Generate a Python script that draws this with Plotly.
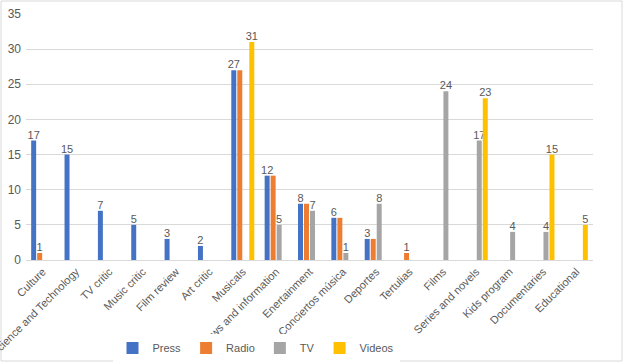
import plotly.graph_objects as go

categories = ["Culture", "Science and Technology", "TV critic", "Music critic", "Film review",
              "Art critic", "Musicals", "News and information", "Enertainment", "Conciertos música",
              "Deportes", "Tertulias", "Films", "Series and novels", "Kids program",
              "Documentaries", "Educational"]
press = [17, 15, 7, 5, 3, 2, 27, 12, 8, 6, 3, None, None, None, None, None, None]
radio = [1, None, None, None, None, None, 27, 12, 8, 6, 3, 1, None, None, None, None, None]
tv = [None, None, None, None, None, None, None, 5, 7, 1, 8, None, 24, 17, 4, 4, None]
videos = [None, None, None, None, None, None, 31, None, None, None, None, None, None, 23, None, 15, 5]
y_ticks = [0, 5, 10, 15, 20, 25, 30, 35]

def labels(vals, other=None):
    out = []
    for i, v in enumerate(vals):
        if v is None:
            out.append("")
        elif other is not None and other[i] == v:
            out.append("")
        else:
            out.append(str(v))
    return out

FONT = "Liberation Sans"
TXT = "#595959"
series = [
    ("Press", press, "#4472C4", labels(press)),
    ("Radio", radio, "#ED7D31", labels(radio, press)),
    ("TV", tv, "#A5A5A5", labels(tv)),
    ("Videos", videos, "#FFC000", labels(videos)),
]

fig = go.Figure()
for name, vals, col, txt in series:
    fig.add_trace(go.Bar(
        name=name, x=categories, y=vals, marker=dict(color=col, line=dict(width=0)),
        text=txt, textposition="outside", cliponaxis=False, constraintext="none",
        textfont=dict(family=FONT, size=11, color=TXT),
    ))

fig.update_layout(
    width=625, height=363,
    margin=dict(l=26, r=32, t=14, b=103, autoexpand=False),
    paper_bgcolor="white", plot_bgcolor="white",
    barmode="group", bargap=0.28, bargroupgap=0.17,
    font=dict(family=FONT, size=10, color=TXT),
    showlegend=True,
    legend=dict(orientation="h", xref="container", yref="container",
                x=0.18, xanchor="left", y=0.041, yanchor="middle",
                font=dict(family=FONT, size=11, color=TXT), itemwidth=30,
                traceorder="normal"),
)
fig.update_xaxes(tickangle=-45, tickfont=dict(family=FONT, size=11, color=TXT),
                 showline=True, linecolor="#d9d9d9", linewidth=1, ticks="",
                 showgrid=False, automargin=False)
fig.update_yaxes(range=[0, 35], tickvals=y_ticks, showgrid=True, gridcolor="#d9d9d9",
                 gridwidth=1, zeroline=False, tickfont=dict(family=FONT, size=12, color=TXT),
                 ticks="", showline=False, automargin=False, ticklabelstandoff=4)

# outer chart border
fig.add_shape(type="rect", xref="paper", yref="paper",
              x0=(1 - 26) / 567, x1=(622 - 26) / 567,
              y0=(260 - 361) / 246, y1=(260 - 1) / 246,
              line=dict(color="#d9d9d9", width=1), fillcolor="rgba(0,0,0,0)", layer="below")

fig.write_html("out.html", config={"displayModeBar": False},
               post_script="document.body.style.margin='0';")
